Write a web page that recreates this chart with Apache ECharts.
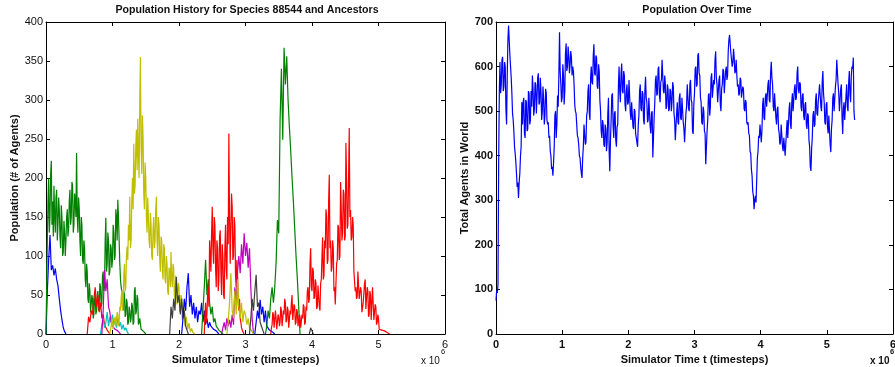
<!DOCTYPE html>
<html><head><meta charset="utf-8">
<script src="https://cdn.jsdelivr.net/npm/echarts@6/dist/echarts.min.js"></script>
<style>html,body{margin:0;padding:0;background:#fff}#c{width:895px;height:367px}</style>
</head><body><div id="c"></div>
<script>
// ---------- DATA (time in units of 10^6 timesteps) ----------
const xTicks = [0, 1, 2, 3, 4, 5, 6];
const leftYTicks = [0, 50, 100, 150, 200, 250, 300, 350, 400];
const rightYTicks = [0, 100, 200, 300, 400, 500, 600, 700];

const blue1Start = 0.00, blue1Step = 0.02;
const blue1 = [0,55,95,127,82,88,75,84,70,62,45,30,18,8,3,0];
const green1Start = 0.00, green1Step = 0.01;
const green1 = [0,60,120,170,200,130,150,205,222,140,170,125,190,150,130,175,185,120,140,175,160,125,110,165,150,100,105,145,130,100,120,150,160,125,135,170,185,140,150,195,190,130,140,180,170,150,232,150,130,175,160,120,100,150,140,95,90,120,110,70,60,90,80,45,40,65,55,28,30,50,45,20,25,45,50,25,30,50,55,30,35,65,60,35,40,75,80,55,60,120,149,80,90,130,120,75,80,115,110,85,95,140,130,95,100,160,150,120,172,150,120,90,70,60,55,35,30,55,50,22,25,45,40,12,15,35,30,15,20,40,35,12,15,55,60,25,30,50,45,12,15,20,18,6,8,4,5,3,2,1,0];
const red1Start = 0.62, red1Step = 0.02;
const red1 = [0,22,15,30,25,45,60,35,50,28,40,20,25,12,10,5,3,0];
const cyan1Start = 0.82, cyan1Step = 0.02;
const cyan1 = [0,12,20,8,15,28,10,22,15,25,12,18,8,20,10,15,6,12,5,8,3,0];
const magenta1Start = 0.84, magenta1Step = 0.02;
const magenta1 = [0,30,82,55,70,35,28,15,10,12,6,8,4,2,0];
const yellow1Start = 0.96, yellow1Step = 0.01;
const yellow1 = [0,6,10,20,18,6,8,18,22,10,12,28,25,10,15,35,30,45,56,30,40,75,90,55,60,100,112,95,140,120,176,110,120,170,200,160,244,180,190,240,262,210,276,230,200,300,355,240,205,280,250,180,160,220,200,150,130,175,150,120,110,155,140,100,95,135,150,110,120,160,176,120,100,150,140,95,80,125,120,80,70,115,110,70,65,100,90,55,50,85,80,60,105,70,60,90,85,50,45,75,70,38,40,65,60,28,30,50,45,18,20,35,30,10,12,22,20,6,8,14,12,3,4,7,6,2,2,1,0];
const gray1Start = 1.86, gray1Step = 0.02;
const gray1 = [0,35,20,45,30,73,40,50,25,45,20,30,10,5,0];
const blue2Start = 2.04, blue2Step = 0.02;
const blue2 = [0,20,45,30,60,78,35,50,25,40,20,35,15,30,25,40,15,30,12,20,8,15,10,12,6,8,4,2,0];
const green2Start = 2.34, green2Step = 0.02;
const green2 = [0,30,60,95,50,70,40,25,35,15,20,10,12,5,6,2,0];
const red2Start = 2.38, red2Step = 0.01;
const red2 = [0,25,40,15,25,50,60,35,120,100,80,130,163,110,90,150,140,85,60,120,110,55,70,125,133,80,50,115,100,50,45,110,140,85,70,150,115,257,150,90,90,180,163,95,100,150,140,75,60,95,78,40,30,45,20,15,8,10,3,2,0];
const magenta2Start = 2.64, magenta2Step = 0.02;
const magenta2 = [0,8,15,5,20,10,18,8,25,12,60,40,80,100,78,115,90,129,100,117,85,110,60,20,0];
const yellow2Start = 2.72, yellow2Step = 0.02;
const yellow2 = [0,15,40,78,30,20,55,25,70,35,20,40,15,30,25,12,20,8,10,3,0];
const gray2Start = 3.06, gray2Step = 0.02;
const gray2 = [0,20,45,30,55,76,35,40,15,10,5,0];
const blue3Start = 3.14, blue3Step = 0.02;
const blue3 = [0,15,30,20,44,25,35,15,30,10,12,5,6,3,2,0];
const green3Start = 3.30, green3Step = 0.02;
const green3 = [0,10,30,20,45,60,40,60,91,146,129,274,340,249,367,320,356,300,265,235,200,170,135,100,70,35,0];
const gray3Start = 3.96, gray3Step = 0.02;
const gray3 = [0,8,4,0];
const red3Start = 3.38, red3Step = 0.01;
const red3 = [0,8,12,28,25,8,10,30,20,6,8,25,22,10,15,35,30,10,12,30,25,45,40,15,18,35,30,8,10,30,25,40,50,18,20,38,35,12,15,32,28,10,12,25,22,8,10,25,20,38,35,12,15,35,30,55,60,40,45,90,110,60,55,85,80,45,48,70,65,32,35,62,60,35,30,65,70,100,124,70,75,120,110,160,150,90,95,170,204,110,120,80,85,120,110,55,60,38,40,90,95,140,136,95,100,195,160,120,130,185,180,120,125,245,200,135,140,200,264,150,159,120,124,150,140,80,82,55,60,45,48,80,78,45,43,60,55,28,30,40,38,65,70,32,30,60,55,22,25,55,50,18,20,60,62,18,20,38,35,12,15,25,20,6,5,4,4,5,5,3,3,4,4,3,3,2,2,1,1,0,0];

const totalStart = 0.00, totalStep = 0.01;
const totalAgents = [75,98,92,110,380,540,610,540,560,615,622,545,555,610,600,505,470,580,660,692,690,625,600,575,540,495,480,455,420,405,385,360,330,340,305,340,360,400,420,520,470,520,530,450,440,525,520,455,460,545,540,470,480,545,510,580,550,490,505,565,560,495,530,575,585,515,520,575,545,480,500,555,525,470,490,550,540,480,470,475,440,445,410,400,370,375,355,385,420,490,500,440,470,535,510,580,677,590,560,520,530,605,580,515,545,630,652,590,600,645,625,585,605,635,620,580,600,590,560,515,500,495,470,445,440,425,400,395,375,360,350,395,420,470,470,425,430,490,500,545,560,495,480,575,600,565,560,625,650,585,580,625,620,555,550,605,590,525,500,455,440,480,470,425,420,470,460,410,430,495,530,410,365,435,480,535,540,465,440,495,500,435,420,465,470,555,600,545,520,585,607,545,540,590,580,515,500,545,560,515,520,570,570,495,480,520,520,465,460,505,500,450,440,440,420,470,490,545,560,505,500,545,540,480,470,545,577,530,520,475,480,530,530,465,450,495,500,396,400,485,520,570,580,535,540,595,600,535,520,565,570,615,615,545,540,580,560,505,510,560,550,500,505,550,545,500,520,565,555,495,480,435,434,495,520,475,470,530,540,485,480,530,530,475,460,430,434,495,510,560,560,505,500,560,570,525,520,455,449,515,540,595,600,555,560,625,630,585,580,530,520,475,470,510,500,455,450,381,385,455,480,535,540,490,510,575,585,530,530,570,560,615,634,575,560,520,520,570,580,515,500,550,560,595,590,540,540,590,600,570,580,635,660,671,670,630,630,600,610,640,620,585,590,615,580,555,560,535,540,575,570,530,530,555,550,505,500,525,520,475,470,475,450,445,410,405,370,355,320,310,280,300,310,295,345,395,410,445,440,470,470,430,460,515,530,485,480,530,540,510,510,560,570,525,520,585,611,575,560,510,500,540,540,485,470,505,510,460,450,425,430,470,470,420,410,440,440,400,400,455,480,440,440,505,520,470,460,520,540,500,500,550,560,525,530,585,600,550,540,565,560,510,500,535,540,490,480,515,520,470,460,495,490,435,420,375,366,415,440,490,500,465,470,525,540,495,490,520,520,560,560,510,500,565,590,540,520,475,470,515,520,465,450,490,490,425,408,460,480,530,540,500,500,555,570,615,619,560,540,500,500,550,560,485,449,505,520,480,480,535,560,510,500,565,590,535,520,580,600,595,620,500,480];

// ---------- BUILD ----------
function seg(start, vals, step) {
  return vals.map((v, i) => [Math.round((start + i * step) * 1000) / 1000, v]);
}
const C = {b:'#0000ff', g:'#008000', r:'#ff0000', c:'#00bfbf', m:'#bf00bf', y:'#bfbf00', k:'#404040'};
const leftDefs = [
  ['blue1', blue1Start, blue1Step, blue1, C.b], ['green1', green1Start, green1Step, green1, C.g],
  ['red1', red1Start, red1Step, red1, C.r], ['cyan1', cyan1Start, cyan1Step, cyan1, C.c],
  ['magenta1', magenta1Start, magenta1Step, magenta1, C.m], ['yellow1', yellow1Start, yellow1Step, yellow1, C.y],
  ['gray1', gray1Start, gray1Step, gray1, C.k], ['blue2', blue2Start, blue2Step, blue2, C.b],
  ['green2', green2Start, green2Step, green2, C.g], ['red2', red2Start, red2Step, red2, C.r],
  ['magenta2', magenta2Start, magenta2Step, magenta2, C.m], ['yellow2', yellow2Start, yellow2Step, yellow2, C.y],
  ['gray2', gray2Start, gray2Step, gray2, C.k], ['blue3', blue3Start, blue3Step, blue3, C.b],
  ['gray3', gray3Start, gray3Step, gray3, C.k],
  ['green3', green3Start, green3Step, green3, C.g], ['red3', red3Start, red3Step, red3, C.r]
];
const FONT = 'Liberation Sans, Arial, Helvetica, sans-serif';
const series = leftDefs.map(d => ({
  name: d[0], type: 'line', xAxisIndex: 0, yAxisIndex: 0,
  data: seg(d[1], d[3], d[2]), showSymbol: false, symbol: 'none',
  lineStyle: {color: d[4], width: 1.2}, itemStyle: {color: d[4]}, silent: true
}));
series.push({
  name: 'Total', type: 'line', xAxisIndex: 2, yAxisIndex: 2,
  data: seg(totalStart, totalAgents, totalStep), showSymbol: false, symbol: 'none',
  lineStyle: {color: '#0000ff', width: 1.2}, silent: true
});

function xAxis(grid, pos, bold, labels) {
  return {
    type: 'value', gridIndex: grid, position: pos, min: xTicks[0], max: xTicks[xTicks.length-1], interval: 1,
    axisLine: {show: true, onZero: false, lineStyle: {color: '#000', width: 1}},
    axisTick: {show: true, inside: true, length: 4, lineStyle: {color: '#000'}},
    splitLine: {show: false},
    axisLabel: {show: labels, margin: 5, color: '#111', fontSize: 11, fontFamily: FONT, fontWeight: bold ? 'bold' : 'normal'},
    name: labels ? 'Simulator Time t (timesteps)' : '', nameLocation: 'middle', nameGap: 13,
    nameTextStyle: {fontSize: 11, fontWeight: 'bold', fontFamily: FONT, color: '#111'}
  };
}
function yAxis(grid, pos, bold, labels, ticks, name) {
  return {
    type: 'value', gridIndex: grid, position: pos, min: ticks[0], max: ticks[ticks.length-1], interval: ticks[1]-ticks[0],
    axisLine: {show: true, onZero: false, lineStyle: {color: '#000', width: 1}},
    axisTick: {show: true, inside: true, length: 4, lineStyle: {color: '#000'}},
    splitLine: {show: false},
    axisLabel: {show: labels, margin: 3, color: '#111', fontSize: 11, fontFamily: FONT, fontWeight: bold ? 'bold' : 'normal'},
    name: labels ? name : '', nameLocation: 'middle', nameGap: 21,
    nameTextStyle: {fontSize: 11, fontWeight: 'bold', fontFamily: FONT, color: '#111'}
  };
}

const chart = echarts.init(document.getElementById('c'), null, {renderer: 'canvas'});
chart.setOption({
  animation: false,
  backgroundColor: '#fff',
  title: [
    {text: 'Population History for Species 88544 and Ancestors', left: 247, top: 5, textAlign: 'center', padding: 0,
     textStyle: {fontSize: 10.6, fontWeight: 'bold', fontFamily: FONT, color: '#111'}},
    {text: 'Population Over Time', left: 697, top: 5, textAlign: 'center', padding: 0,
     textStyle: {fontSize: 10.6, fontWeight: 'bold', fontFamily: FONT, color: '#111'}}
  ],
  grid: [
    {left: 46, right: 450, top: 22, bottom: 33, containLabel: false, outerBoundsMode: 'none'},
    {left: 496, right: 2, top: 22, bottom: 33, containLabel: false, outerBoundsMode: 'none'}
  ],
  xAxis: [xAxis(0, 'bottom', false, true), xAxis(0, 'top', false, false),
          xAxis(1, 'bottom', true, true), xAxis(1, 'top', true, false)],
  yAxis: [yAxis(0, 'left', false, true, leftYTicks, 'Population (# of Agents)'), yAxis(0, 'right', false, false, leftYTicks, ''),
          yAxis(1, 'left', true, true, rightYTicks, 'Total Agents in World'), yAxis(1, 'right', true, false, rightYTicks, '')],
  graphic: [
    {type: 'text', left: 421, top: 356, style: {text: 'x 10', fontSize: 10, fontFamily: FONT, fill: '#111'}},
    {type: 'text', left: 441, top: 348, style: {text: '6', fontSize: 7.5, fontFamily: FONT, fill: '#111'}},
    {type: 'text', left: 870, top: 356, style: {text: 'x 10', fontSize: 10, fontWeight: 'bold', fontFamily: FONT, fill: '#111'}},
    {type: 'text', left: 890, top: 348, style: {text: '6', fontSize: 7.5, fontWeight: 'bold', fontFamily: FONT, fill: '#111'}}
  ],
  series: series
});
</script></body></html>
